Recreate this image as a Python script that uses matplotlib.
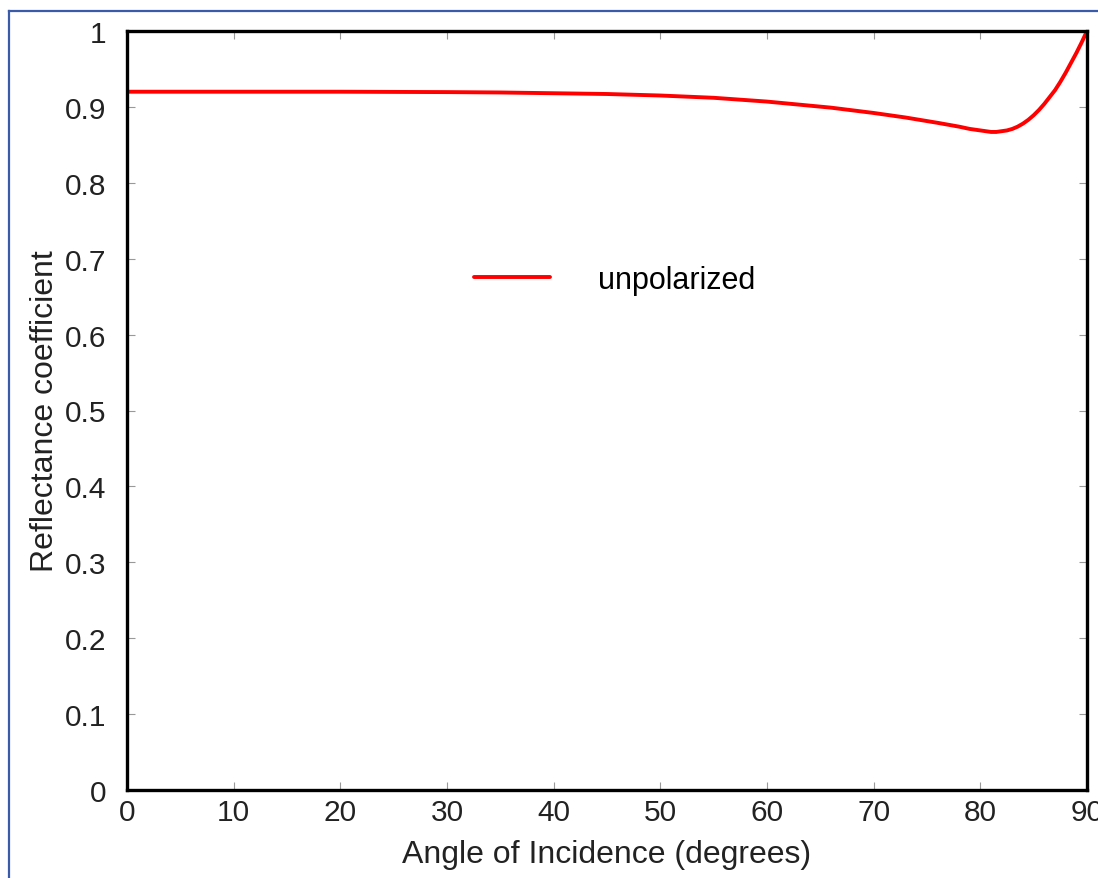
import numpy as np
import matplotlib.pyplot as plt
from matplotlib.lines import Line2D

# angle of incidence (degrees) and unpolarized reflectance
angle = [0, 10, 20, 30, 35, 40, 45, 50, 55, 60, 63, 66, 70, 73, 76, 78, 79, 80,
         80.5, 81, 81.5, 82, 82.5, 83, 83.5, 84, 84.5, 85, 85.5, 86, 86.5, 87,
         87.5, 88, 88.5, 89, 89.5, 90]
refl = [0.920, 0.920, 0.920, 0.9195, 0.919, 0.918, 0.917, 0.915, 0.912, 0.907,
        0.903, 0.899, 0.892, 0.886, 0.879, 0.874, 0.871, 0.869, 0.868, 0.867,
        0.867, 0.868, 0.869, 0.871, 0.874, 0.878, 0.883, 0.889, 0.896, 0.904,
        0.913, 0.922, 0.933, 0.945, 0.958, 0.971, 0.985, 1.0]

xticks = [0, 10, 20, 30, 40, 50, 60, 70, 80, 90]
yticks = [0, 0.1, 0.2, 0.3, 0.4, 0.5, 0.6, 0.7, 0.8, 0.9, 1]
ytick_labels = ['0', '0.1', '0.2', '0.3', '0.4', '0.5', '0.6', '0.7', '0.8', '0.9', '1']

plt.rcParams['font.family'] = ['Liberation Sans', 'DejaVu Sans']

fig = plt.figure(figsize=(10.98, 8.79), dpi=100)
ax = fig.add_axes([127 / 1098, 88 / 879, 960 / 1098, 759 / 879])

ax.plot(angle, refl, color='#ff0000', lw=2.8, label='unpolarized',
        solid_capstyle='round', solid_joinstyle='round')

ax.set_xlim(0, 90)
ax.set_ylim(0, 1)
ax.set_xticks(xticks)
ax.set_yticks(yticks)
ax.set_yticklabels(ytick_labels)
ax.tick_params(direction='in', length=6, width=0.8, color='#999999',
               top=True, right=True, labelsize=21.5, labelcolor='#222222')
ax.tick_params(axis='x', pad=6)
ax.tick_params(axis='y', pad=15)
for s in ax.spines.values():
    s.set_linewidth(2.4)
    s.set_color('black')

ax.set_xlabel('Angle of Incidence (degrees)', fontsize=23, color='#222222', labelpad=9)
ax.set_ylabel('Reflectance coefficient', fontsize=23, color='#222222', labelpad=3)

ax.legend(loc='center left', bbox_to_anchor=(0.3615, 0.672), frameon=False,
          fontsize=22, handlelength=2.5, handletextpad=1.55, borderpad=0,
          borderaxespad=0)

# thin blue frame around the picture (left and top edges)
fig.add_artist(Line2D([9 / 1098, 9 / 1098], [0, 1 - 12 / 879], transform=fig.transFigure,
                      color='#3a5ba9', lw=1.6))
fig.add_artist(Line2D([9 / 1098, 1], [1 - 12 / 879, 1 - 12 / 879], transform=fig.transFigure,
                      color='#3a5ba9', lw=1.6))

fig.savefig('out.png', dpi=100)
